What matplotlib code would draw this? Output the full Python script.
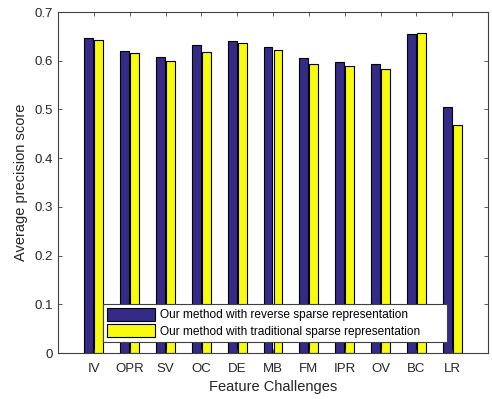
import matplotlib
matplotlib.use('Agg')
import matplotlib.pyplot as plt
import numpy as np

plt.rcParams['font.family'] = ['Liberation Sans', 'DejaVu Sans']

challenges = ['IV', 'OPR', 'SV', 'OC', 'DE', 'MB', 'FM', 'IPR', 'OV', 'BC', 'LR']
reverse_sparse = [0.646, 0.620, 0.607, 0.633, 0.640, 0.629, 0.605, 0.597, 0.594, 0.655, 0.505]
traditional_sparse = [0.642, 0.616, 0.599, 0.618, 0.637, 0.622, 0.594, 0.590, 0.582, 0.656, 0.469]

axc = '#404040'
x = np.arange(1, len(challenges) + 1)

fig = plt.figure(figsize=(4.92, 3.99), dpi=100)
ax = fig.add_axes([58 / 492, 46 / 399, 430 / 492, 341 / 399])

ax.bar(x - 0.14, reverse_sparse, width=0.25, color='#352A87', edgecolor='black',
       linewidth=0.8, label='Our method with reverse sparse representation')
ax.bar(x + 0.14, traditional_sparse, width=0.25, color='#F9FB0E', edgecolor='black',
       linewidth=0.8, label='Our method with traditional sparse representation')

ax.set_xlim(0, 12)
ax.set_ylim(0, 0.7)
ax.set_xticks(x)
ax.set_xticklabels(challenges)
ax.set_yticks(np.arange(0, 0.71, 0.1))
ax.set_yticklabels(['0', '0.1', '0.2', '0.3', '0.4', '0.5', '0.6', '0.7'])
ax.tick_params(direction='in', length=3, width=0.6, colors=axc, labelsize=9.5,
               top=True, right=True, labelcolor='#262626')
ax.tick_params(axis='x', pad=7)
for s in ax.spines.values():
    s.set_color(axc)
    s.set_linewidth(0.8)

ax.set_xlabel('Feature Challenges', fontsize=10.5, color='#262626', labelpad=4)
ax.set_ylabel('Average precision score', fontsize=10.5, color='#262626', labelpad=5)

leg = ax.legend(loc='lower left', bbox_to_anchor=(0.105, 0.033, 0.8, 0.11),
                mode='expand', fontsize=8.6, frameon=True, fancybox=False,
                edgecolor=axc, framealpha=1, handlelength=4.0, handleheight=1.2,
                borderpad=0.35, labelspacing=0.25, handletextpad=0.4,
                borderaxespad=0)
leg.get_frame().set_linewidth(0.8)
leg._legend_box.align = 'left'

fig.savefig('out.png', dpi=100)
